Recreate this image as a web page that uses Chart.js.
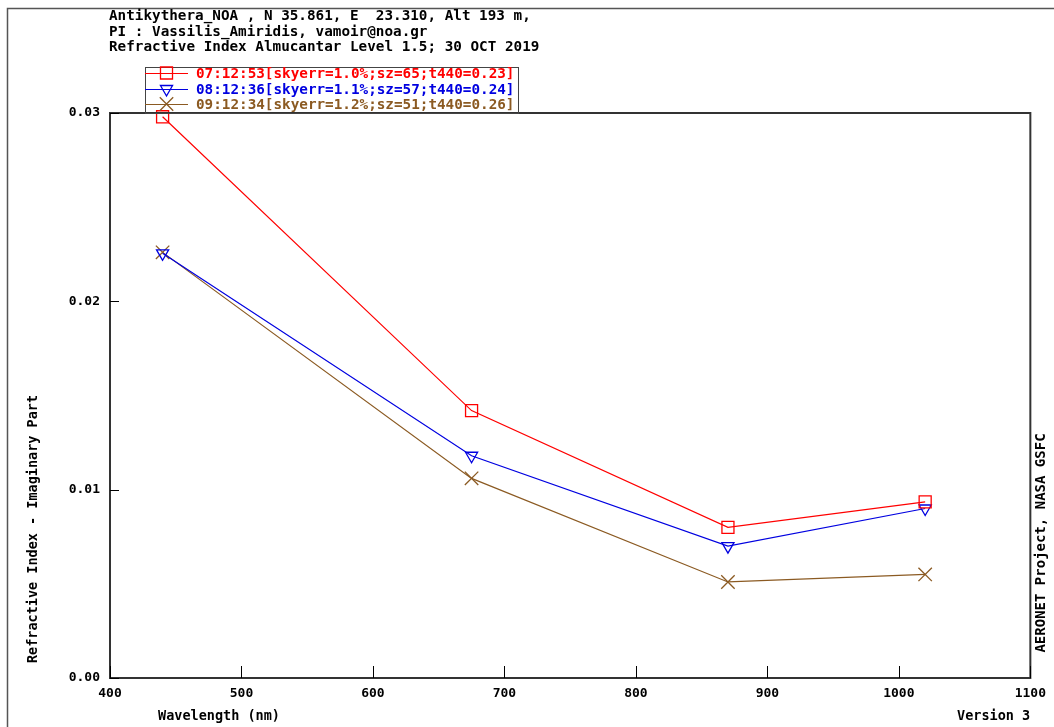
<!DOCTYPE html>
<html>
<head>
<meta charset="utf-8">
<script src="https://cdn.jsdelivr.net/npm/chart.js@4/dist/chart.umd.min.js"></script>
<style>
html,body{margin:0;padding:0;background:#fff;}
#wrap{width:1054px;height:727px;position:relative;}
</style>
</head>
<body>
<div id="wrap"><canvas id="c" width="1054" height="727"></canvas></div>
<script>
// ---- data ----
const wavelengths = [440, 675, 870, 1020];
const seriesRed   = [0.0298, 0.0142, 0.0080, 0.00935];
const seriesBlue  = [0.02255, 0.0118, 0.0070, 0.0090];
const seriesBrown = [0.0226, 0.0106, 0.0051, 0.0055];
const seriesLabels = [
  "07:12:53[skyerr=1.0%;sz=65;t440=0.23]",
  "08:12:36[skyerr=1.1%;sz=57;t440=0.24]",
  "09:12:34[skyerr=1.2%;sz=51;t440=0.26]"
];
const titleLines = [
  "Antikythera_NOA , N 35.861, E  23.310, Alt 193 m,",
  "PI : Vassilis_Amiridis, vamoir@noa.gr",
  "Refractive Index Almucantar Level 1.5; 30 OCT 2019"
];
const xTitle = "Wavelength (nm)";
const yTitle = "Refractive Index - Imaginary Part";
const versionText = "Version 3";
const sideText = "AERONET Project, NASA GSFC";
const xTicks = [400, 500, 600, 700, 800, 900, 1000, 1100];
const yTicks = [0.00, 0.01, 0.02, 0.03];

const colors = ["#ff0000", "#0000e0", "#8b5a22"];
const styles = [
  {pointStyle: "rect", rotation: 0, radius: 8.5},
  {pointStyle: "triangle", rotation: 180, radius: 7},
  {pointStyle: "crossRot", rotation: 0, radius: 9.5}
];
const allSeries = [seriesRed, seriesBlue, seriesBrown];

const FONT = '"DejaVu Sans Mono", "Liberation Mono", monospace';

const datasets = allSeries.map((s, i) => ({
  label: seriesLabels[i],
  data: wavelengths.map((w, j) => ({x: w, y: s[j]})),
  showLine: true,
  borderColor: colors[i],
  backgroundColor: "rgba(0,0,0,0)",
  borderWidth: 1.2,
  pointStyle: styles[i].pointStyle,
  rotation: styles[i].rotation,
  pointRadius: styles[i].radius,
  pointBorderWidth: 1.3,
  pointBorderColor: colors[i],
  pointBackgroundColor: "rgba(0,0,0,0)",
  tension: 0,
  clip: false
}));

const decor = {
  id: "decor",
  afterDraw(chart) {
    const ctx = chart.ctx;
    const a = chart.chartArea;
    const xs = chart.scales.x, ys = chart.scales.y;
    ctx.save();
    // outer frame (top & left)
    ctx.strokeStyle = "#555";
    ctx.lineWidth = 1.5;
    ctx.beginPath();
    ctx.moveTo(7.5, 727); ctx.lineTo(7.5, 8.5); ctx.lineTo(1054, 8.5);
    ctx.stroke();

    // plot border
    ctx.strokeStyle = "#333";
    ctx.lineWidth = 2;
    ctx.strokeRect(a.left, a.top, a.right - a.left, a.bottom - a.top);

    // inward ticks
    ctx.lineWidth = 1;
    ctx.strokeStyle = "#000";
    ctx.beginPath();
    xTicks.forEach(v => {
      const px = Math.round(xs.getPixelForValue(v)) + 0.5;
      ctx.moveTo(px, a.bottom); ctx.lineTo(px, a.bottom - 12);
    });
    yTicks.forEach(v => {
      const py = Math.round(ys.getPixelForValue(v)) + 0.5;
      ctx.moveTo(a.left, py); ctx.lineTo(a.left + 9, py);
    });
    ctx.stroke();

    // title lines
    ctx.fillStyle = "#000";
    ctx.font = "bold 14.3px " + FONT;
    ctx.textBaseline = "middle";
    ctx.textAlign = "left";
    const ty = [16, 32, 47];
    titleLines.forEach((t, i) => ctx.fillText(t, 109, ty[i]));

    // legend box
    ctx.strokeStyle = "#444";
    ctx.lineWidth = 1;
    ctx.strokeRect(145.5, 67.5, 373, a.top - 67);
    const ly = [73, 89, 104];
    seriesLabels.forEach((lab, i) => {
      ctx.strokeStyle = colors[i];
      ctx.lineWidth = 1.2;
      ctx.beginPath();
      ctx.moveTo(145, ly[i] + 0.5); ctx.lineTo(188, ly[i] + 0.5);
      ctx.stroke();
      ctx.fillStyle = "rgba(0,0,0,0)";
      ctx.strokeStyle = colors[i];
      ctx.lineWidth = 1.3;
      Chart.helpers.drawPoint(ctx, {
        pointStyle: styles[i].pointStyle,
        rotation: styles[i].rotation,
        radius: styles[i].radius,
        borderWidth: 1.3
      }, 166.5, ly[i]);
      ctx.fillStyle = colors[i];
      ctx.font = "bold 14.3px " + FONT;
      ctx.textAlign = "left";
      ctx.textBaseline = "middle";
      ctx.fillText(lab, 196, ly[i] + 1);
    });

    // axis titles
    ctx.fillStyle = "#000";
    ctx.font = "bold 13.5px " + FONT;
    ctx.textAlign = "left";
    ctx.textBaseline = "middle";
    ctx.fillText(xTitle, 158, 716);
    ctx.fillText(versionText, 957, 716);

    ctx.save();
    ctx.translate(33, 529);
    ctx.rotate(-Math.PI / 2);
    ctx.textAlign = "center";
    ctx.fillText(yTitle, 0, 0);
    ctx.restore();

    ctx.save();
    ctx.font = "bold 14px " + FONT;
    ctx.translate(1041, 543);
    ctx.rotate(-Math.PI / 2);
    ctx.textAlign = "center";
    ctx.fillText(sideText, 0, 0);
    ctx.restore();

    ctx.restore();
  }
};

new Chart(document.getElementById("c"), {
  type: "scatter",
  data: {datasets},
  options: {
    responsive: false,
    animation: false,
    events: [],
    layout: {padding: {left: 0, top: 113, right: 22, bottom: 0}},
    plugins: {legend: {display: false}, tooltip: {enabled: false}, title: {display: false}},
    scales: {
      x: {
        type: "linear",
        min: 400, max: 1100,
        afterFit: s => { s.height = 49; },
        afterBuildTicks: s => { s.ticks = xTicks.map(v => ({value: v})); },
        grid: {display: false, drawTicks: false},
        border: {display: false},
        ticks: {
          padding: 8,
          color: "#000",
          font: {family: FONT, size: 13, weight: "bold"},
          maxRotation: 0,
          autoSkip: false,
          callback: v => String(v)
        }
      },
      y: {
        type: "linear",
        min: 0, max: 0.03,
        afterFit: s => { s.width = 110; },
        afterBuildTicks: s => { s.ticks = yTicks.map(v => ({value: v})); },
        grid: {display: false, drawTicks: false},
        border: {display: false},
        ticks: {
          padding: 10,
          color: "#000",
          font: {family: FONT, size: 13, weight: "bold"},
          autoSkip: false,
          callback: v => Number(v).toFixed(2)
        }
      }
    }
  },
  plugins: [decor]
});
</script>
</body>
</html>
